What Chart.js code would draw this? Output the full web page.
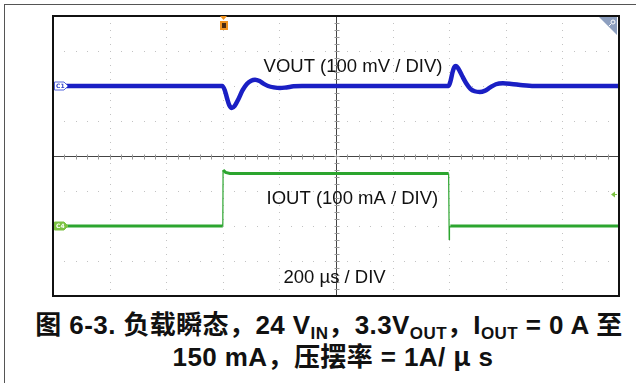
<!DOCTYPE html>
<html>
<head>
<meta charset="utf-8">
<script src="https://cdn.jsdelivr.net/npm/chart.js@4/dist/chart.umd.min.js"></script>
<style>
  html, body { margin: 0; padding: 0; background: #fff; }
  #wrap { position: relative; width: 636px; height: 383px; overflow: hidden; }
  #frame { position: absolute; left: 4px; top: 4px; width: 700px; height: 500px;
           border-left: 1px solid #555; border-top: 1px solid #555; }
  #scope { position: absolute; left: 0; top: 0; }
  #caption { position: absolute; left: 0; top: 308px; width: 658px; text-align: center;
             font-family: "Liberation Sans", Arial, "Noto Sans CJK SC", sans-serif;
             font-weight: bold; font-size: 26px; line-height: 30px; color: #111;
             white-space: nowrap; letter-spacing: 0.4px; }
  #caption .l2 { padding-left: 8px; }
  #caption .cjk { font-family: "Noto Sans CJK SC", sans-serif; }
  #caption sub { font-size: 17px; vertical-align: -5px; line-height: 0; }
</style>
</head>
<body>
<div id="wrap">
  <div id="frame"></div>
  <canvas id="scope" width="636" height="300"></canvas>
  <div id="caption">
    <div><span class="cjk">图</span> 6-3. <span class="cjk">负载瞬态，</span>24 V<sub>IN</sub><span class="cjk">，</span>3.3V<sub>OUT</sub><span class="cjk">，</span>I<sub>OUT</sub> = 0 A <span class="cjk">至</span></div>
    <div class="l2">150 mA<span class="cjk">，压摆率</span> = 1A/ <span class="cjk">μ</span> s</div>
  </div>
</div>
<script>
// Time axis: 200 µs per division, 10 divisions, trigger at centre.
// Vertical axis in screen divisions (8 divisions, -4..4).
const TIME_US   = [-1000, 1000];
const DIV_RANGE = [-4, 4];
const X_GRID    = [-800, -600, -400, -200, 200, 400, 600, 800];
const Y_GRID    = [-3, -2, -1, 1, 2, 3];

// Channel 1: output voltage deviation from 3.3 V, in mV (100 mV/div, offset +2 div)
const VOUT_T  = [-1000, -402, -393, -385, -377, -368, -358, -345, -330, -315, -300, -286, -270, -255, -240, -220, -198, -175, -150, -120,
                  398, 405, 412, 418, 424, 432, 445, 460, 475, 490, 508, 525, 545, 565, 590, 620, 660, 700, 1000];
const VOUT_MV = [0, 0, -12, -35, -55, -63, -57, -38, -12, 6, 15, 18, 14, 6, 0, -4, -6, -4, -1, 0,
                  0, 15, 40, 54, 57, 50, 30, 8, -8, -15, -17, -14, -4, 5, 8, 6, 2, 0, 0];
const VOUT_OFFSET_DIV = 2;
const VOUT_SCALE = 100;

// Channel 4: load current, in mA (100 mA/div, offset -2 div)
const IOUT_T  = [-1000, -400, -399, -390, -375, 398, 400, 401, 404, 1000];
const IOUT_MA = [0, 0, 160, 153, 150, 150, -38, -6, 0, 0];
const IOUT_OFFSET_DIV = -2;
const IOUT_SCALE = 100;

const TRIGGER_T_US = -400;
const TRIGGER_LEVEL_DIV = -1.09;

// Annotations: [text, time (µs), baseline (div)]
const LABELS = [
  ['VOUT (100 mV / DIV)', 60, 2.4],
  ['IOUT (100 mA / DIV)', 58, -1.371],
  ['200 µs / DIV', -5, -3.629]
];

const voutPts = VOUT_T.map((t, i) => ({ x: t, y: VOUT_MV[i] / VOUT_SCALE + VOUT_OFFSET_DIV }));
const ioutPts = IOUT_T.map((t, i) => ({ x: t, y: IOUT_MA[i] / IOUT_SCALE + IOUT_OFFSET_DIV }));

const graticule = {
  id: 'graticule',
  beforeDatasetsDraw(chart) {
    const { ctx, chartArea: a, scales: { x, y } } = chart;
    ctx.save();
    // dotted division lines
    ctx.fillStyle = '#c2c2c2';
    for (const t of X_GRID) {
      const px = Math.round(x.getPixelForValue(t));
      for (let v = DIV_RANGE[0]; v <= DIV_RANGE[1] + 1e-6; v += 0.2) {
        ctx.fillRect(px, Math.round(y.getPixelForValue(v)), 1, 1);
      }
    }
    for (const d of Y_GRID) {
      const py = Math.round(y.getPixelForValue(d));
      for (let t = TIME_US[0]; t <= TIME_US[1] + 1e-6; t += 40) {
        ctx.fillRect(Math.round(x.getPixelForValue(t)), py, 1, 1);
      }
    }
    // centre crosshair with minor ticks
    const cx = Math.round(x.getPixelForValue(0)) + 0.5;
    const cy = Math.round(y.getPixelForValue(0)) + 0.5;
    ctx.strokeStyle = '#444';
    ctx.lineWidth = 1;
    ctx.beginPath();
    ctx.moveTo(cx, a.top); ctx.lineTo(cx, a.bottom);
    ctx.moveTo(a.left, cy); ctx.lineTo(a.right, cy);
    ctx.stroke();
    ctx.strokeStyle = '#999';
    ctx.beginPath();
    for (let t = TIME_US[0]; t <= TIME_US[1] + 1e-6; t += 40) {
      const px = Math.round(x.getPixelForValue(t)) + 0.5;
      ctx.moveTo(px, cy - 2); ctx.lineTo(px, cy + 3);
    }
    for (let v = DIV_RANGE[0]; v <= DIV_RANGE[1] + 1e-6; v += 0.2) {
      const py = Math.round(y.getPixelForValue(v)) + 0.5;
      ctx.moveTo(cx - 2, py); ctx.lineTo(cx + 3, py);
    }
    ctx.stroke();
    ctx.restore();
  },
  afterDatasetsDraw(chart) {
    const { ctx, chartArea: a, scales: { x, y } } = chart;
    ctx.save();
    // text annotations
    ctx.fillStyle = '#111';
    ctx.font = '18.5px "Liberation Sans", Arial, sans-serif';
    ctx.textAlign = 'center';
    ctx.textBaseline = 'alphabetic';
    for (const [txt, t, d] of LABELS) {
      ctx.fillText(txt, x.getPixelForValue(t), y.getPixelForValue(d));
    }
    // screen border
    ctx.strokeStyle = '#111';
    ctx.lineWidth = 2;
    ctx.strokeRect(a.left, a.top, a.right - a.left, a.bottom - a.top);

    // channel tags
    const tag = (d, fill, stroke, txtCol, label) => {
      const py = Math.round(y.getPixelForValue(d));
      const l = a.left + 1.5, r = a.left + 11, tip = a.left + 15;
      ctx.beginPath();
      ctx.moveTo(l, py - 4); ctx.lineTo(r, py - 4); ctx.lineTo(tip, py);
      ctx.lineTo(r, py + 4); ctx.lineTo(l, py + 4); ctx.closePath();
      ctx.fillStyle = fill; ctx.fill();
      ctx.strokeStyle = stroke; ctx.lineWidth = 1; ctx.stroke();
      ctx.fillStyle = txtCol;
      ctx.font = 'bold 6px "DejaVu Sans", sans-serif';
      ctx.textAlign = 'left'; ctx.textBaseline = 'middle';
      ctx.fillText(label, l + 1.5, py + 0.5);
    };
    tag(VOUT_OFFSET_DIV, '#ffffff', '#5566dd', '#3344cc', 'C1');
    tag(IOUT_OFFSET_DIV, '#7cc242', '#7cc242', '#ffffff', 'C4');

    // trigger position marker
    const tx = Math.round(x.getPixelForValue(TRIGGER_T_US));
    ctx.fillStyle = '#f0921e';
    ctx.beginPath();
    ctx.moveTo(tx - 3, a.top); ctx.lineTo(tx + 4, a.top); ctx.lineTo(tx + 0.5, a.top + 4);
    ctx.closePath(); ctx.fill();
    ctx.fillRect(tx - 3, a.top + 5, 8, 9);
    ctx.fillStyle = '#4a2a10';
    ctx.fillRect(tx - 1, a.top + 7, 4, 5);

    // trigger level marker
    const ly = Math.round(y.getPixelForValue(TRIGGER_LEVEL_DIV)) + 0.5;
    ctx.fillStyle = '#7cc242';
    ctx.beginPath();
    ctx.moveTo(a.right - 8, ly); ctx.lineTo(a.right - 4, ly - 3); ctx.lineTo(a.right - 4, ly + 3);
    ctx.closePath(); ctx.fill();
    ctx.fillRect(a.right - 5, ly - 0.5, 3, 1);

    // corner zoom badge
    ctx.fillStyle = '#8d9fbf';
    ctx.beginPath();
    ctx.moveTo(a.right - 20, a.top + 1); ctx.lineTo(a.right - 2, a.top + 1); ctx.lineTo(a.right - 2, a.top + 19);
    ctx.closePath(); ctx.fill();
    ctx.strokeStyle = '#ffffff'; ctx.lineWidth = 1;
    ctx.beginPath(); ctx.arc(a.right - 6, a.top + 6, 2, 0, Math.PI * 2); ctx.stroke();
    ctx.beginPath(); ctx.moveTo(a.right - 8, a.top + 8); ctx.lineTo(a.right - 10, a.top + 10); ctx.stroke();
    ctx.restore();
  }
};

new Chart(document.getElementById('scope'), {
  type: 'line',
  data: {
    datasets: [
      { label: 'VOUT', data: voutPts, borderColor: '#1a1fc4', borderWidth: 4.5,
        cubicInterpolationMode: 'monotone', pointRadius: 0, fill: false },
      { label: 'IOUT', data: ioutPts, borderColor: '#2ca52f', borderWidth: 3,
        tension: 0, pointRadius: 0, fill: false,
        segment: { borderWidth: c => (Math.abs(c.p0.x - c.p1.x) < 1.5 ? 1.2 : 3) } }
    ]
  },
  options: {
    responsive: false,
    animation: false,
    devicePixelRatio: 1,
    layout: { padding: { left: 53, right: 17, top: 16, bottom: 4 } },
    plugins: { legend: { display: false }, tooltip: { enabled: false } },
    scales: {
      x: { type: 'linear', min: TIME_US[0], max: TIME_US[1], display: false },
      y: { type: 'linear', min: DIV_RANGE[0], max: DIV_RANGE[1], display: false }
    }
  },
  plugins: [graticule]
});
</script>
</body>
</html>
